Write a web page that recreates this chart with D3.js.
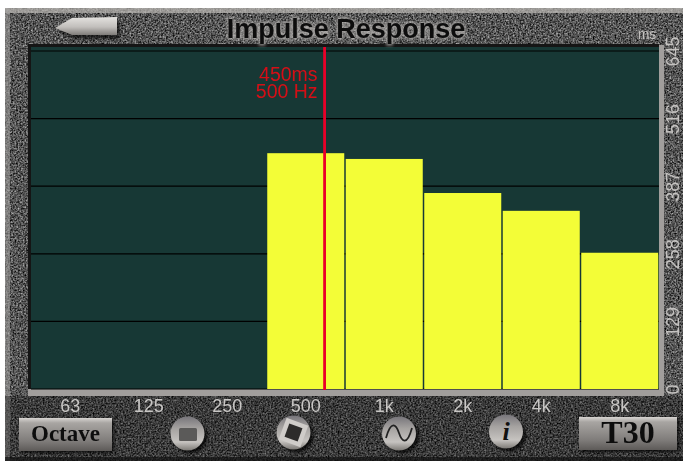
<!DOCTYPE html>
<html lang="en">
<head>
<meta charset="UTF-8">
<title>Impulse Response</title>
<style>
    html, body { margin: 0; padding: 0; background: #fff; }
    svg { display: block; }
    text { font-family: "Liberation Sans", Arial, sans-serif; }
</style>
</head>
<body>
<script src="https://d3js.org/d3.v7.min.js"></script>
<script>
var bands = ["63", "125", "250", "500", "1k", "2k", "4k", "8k"];
var times = [0, 0, 0, 450, 439, 374, 340, 260];
var yTicks = [0, 129, 258, 387, 516, 645];
var cursorBand = "500";
var cursorOffset = 0.74;
var cursorLabels = ["450ms", "500 Hz"];

var width = 683, height = 461;
var plot = { left: 31, right: 659, top: 51, bottom: 389 };

var x = d3.scaleBand().domain(bands).range([plot.left, plot.right]);
var y = d3.scaleLinear().domain([0, 645]).range([plot.bottom, plot.top]);

var svg = d3.select("body").append("svg")
    .attr("width", width)
    .attr("height", height);

var defs = svg.append("defs");

// grainy metal plate
var grain = defs.append("filter").attr("id", "grain")
    .attr("x", 0).attr("y", 0).attr("width", "100%").attr("height", "100%")
    .attr("color-interpolation-filters", "sRGB");
grain.append("feTurbulence")
    .attr("type", "fractalNoise")
    .attr("baseFrequency", 0.6)
    .attr("numOctaves", 2)
    .attr("seed", 4);
grain.append("feColorMatrix")
    .attr("type", "matrix")
    .attr("values", "1 0 0 0 -0.17  1 0 0 0 -0.17  1 0 0 0 -0.17  0 0 0 0 1");
grain.append("feGaussianBlur").attr("stdDeviation", 0.35);

var blur = defs.append("filter").attr("id", "soft")
    .attr("x", "-20%").attr("y", "-20%").attr("width", "140%").attr("height", "140%");
blur.append("feGaussianBlur").attr("stdDeviation", 1.5);

var blurText = defs.append("filter").attr("id", "softText")
    .attr("x", "-10%").attr("y", "-10%").attr("width", "120%").attr("height", "120%");
blurText.append("feGaussianBlur").attr("stdDeviation", 0.4);

function vGradient(id, stops) {
    var g = defs.append("linearGradient").attr("id", id)
        .attr("x1", 0).attr("y1", 0).attr("x2", 0).attr("y2", 1);
    stops.forEach(function(s) {
        g.append("stop").attr("offset", s[0]).attr("stop-color", s[1]);
    });
}
vGradient("btn", [[0, "#d8d5d2"], [0.15, "#a8a5a2"], [0.7, "#7f7c7a"], [1, "#5d5a58"]]);
vGradient("knob", [[0, "#77757a"], [0.35, "#a5a2a0"], [0.75, "#c6c3c0"], [1, "#7d7a76"]]);
vGradient("arrow", [[0, "#e4e2df"], [0.55, "#c2bfbc"], [1, "#7f7c79"]]);

// plate
svg.append("rect")
    .attr("x", 5).attr("y", 8)
    .attr("width", width - 5).attr("height", height - 8)
    .attr("filter", "url(#grain)");
svg.append("rect")
    .attr("x", 5).attr("y", 8)
    .attr("width", width - 5).attr("height", 5)
    .attr("fill", "#bdbab7").attr("opacity", 0.7);
svg.append("rect")
    .attr("x", 5).attr("y", 8)
    .attr("width", 5).attr("height", height - 8)
    .attr("fill", "#a3a09e").attr("opacity", 0.55);
svg.append("rect")
    .attr("x", 5).attr("y", 396)
    .attr("width", width - 5).attr("height", 65)
    .attr("fill", "#000").attr("opacity", 0.3);
svg.append("rect")
    .attr("x", 5).attr("y", 457)
    .attr("width", width - 5).attr("height", 4)
    .attr("fill", "#111").attr("opacity", 0.7);

// bevel round the plot
svg.append("rect")
    .attr("x", plot.left - 3).attr("y", plot.top - 6)
    .attr("width", plot.right - plot.left + 8).attr("height", plot.bottom - plot.top + 13)
    .attr("fill", "#a19e9c")
    .attr("filter", "url(#softText)");
svg.append("rect")
    .attr("x", plot.left - 3).attr("y", plot.top - 7)
    .attr("width", plot.right - plot.left + 3).attr("height", plot.bottom - plot.top + 7)
    .attr("fill", "#151515");

svg.append("rect")
    .attr("x", plot.left).attr("y", plot.top - 4)
    .attr("width", plot.right - plot.left).attr("height", plot.bottom - plot.top + 4)
    .attr("fill", "#173835");

// grid
svg.append("g").selectAll("line")
    .data(yTicks)
    .join("line")
    .attr("x1", plot.left).attr("x2", plot.right)
    .attr("y1", function(d) { return y(d); })
    .attr("y2", function(d) { return y(d); })
    .attr("stroke", "#000")
    .attr("stroke-width", 1.2);

// bars
svg.append("g").selectAll("rect")
    .data(bands.map(function(b, i) { return { band: b, value: times[i] }; }).filter(function(d) { return d.value > 0; }))
    .join("rect")
    .attr("x", function(d) { return x(d.band) + 0.75; })
    .attr("y", function(d) { return y(d.value); })
    .attr("width", x.bandwidth() - 1.5)
    .attr("height", function(d) { return y(0) - y(d.value); })
    .attr("fill", "#f3fd37");

// cursor
var cursorX = x(cursorBand) + x.bandwidth() * cursorOffset;
svg.append("line")
    .attr("x1", cursorX).attr("x2", cursorX)
    .attr("y1", plot.top - 4).attr("y2", plot.bottom + 1)
    .attr("stroke", "#ea0029")
    .attr("stroke-width", 2.8);
svg.append("g").attr("filter", "url(#softText)").selectAll("text")
    .data(cursorLabels)
    .join("text")
    .attr("x", cursorX - 7)
    .attr("y", function(d, i) { return 81 + i * 17; })
    .attr("text-anchor", "end")
    .attr("font-size", 19.5)
    .attr("fill", "#d60f16")
    .text(function(d) { return d; });

// axes, drawn through d3 so the tick text follows the scales
var xAxis = svg.append("g")
    .attr("transform", "translate(0,412)")
    .attr("filter", "url(#softText)")
    .call(d3.axisBottom(x).tickSize(0).tickPadding(0));
xAxis.select(".domain").remove();
xAxis.selectAll("text")
    .attr("y", 0).attr("dy", 0)
    .attr("font-size", 18)
    .attr("font-family", "Liberation Sans")
    .attr("fill", "#c8c6c4");

var yAxis = svg.append("g")
    .attr("filter", "url(#softText)")
    .call(d3.axisRight(y).tickValues(yTicks).tickSize(0).tickFormat(d3.format("d")));
yAxis.select(".domain").remove();
yAxis.selectAll("text")
    .attr("transform", "translate(679,0) rotate(-90)")
    .attr("x", 0).attr("y", 0).attr("dy", 0)
    .attr("text-anchor", "middle")
    .attr("font-size", 18)
    .attr("font-family", "Liberation Sans")
    .attr("fill", "#c4c2c0");

svg.append("text")
    .attr("x", 647).attr("y", 39)
    .attr("text-anchor", "middle")
    .attr("font-size", 14)
    .attr("fill", "#c4c2c0")
    .text("ms");

// title
svg.append("text")
    .attr("x", 346).attr("y", 37.5)
    .attr("text-anchor", "middle")
    .attr("font-size", 27)
    .attr("font-weight", "bold")
    .attr("fill", "none")
    .attr("stroke", "#b8b5b2")
    .attr("stroke-width", 3)
    .attr("opacity", 0.75)
    .attr("filter", "url(#soft)")
    .text("Impulse Response");
svg.append("text")
    .attr("x", 346).attr("y", 37.5)
    .attr("text-anchor", "middle")
    .attr("font-size", 27)
    .attr("font-weight", "bold")
    .attr("fill", "#0b0b0b")
    .attr("filter", "url(#softText)")
    .text("Impulse Response");

// back arrow
svg.append("path")
    .attr("d", "M58 31 L74 23 L120 21 L120 39 L74 39 Z")
    .attr("fill", "#000").attr("opacity", 0.6).attr("filter", "url(#soft)");
svg.append("path")
    .attr("d", "M55 28 L72 18 L117 17 L117 35 L72 35 Z")
    .attr("fill", "url(#arrow)");

// buttons
function button(bx, by, bw, bh, label, size) {
    svg.append("rect")
        .attr("x", bx + 2).attr("y", by + 2).attr("width", bw).attr("height", bh)
        .attr("fill", "#000").attr("opacity", 0.7).attr("filter", "url(#soft)");
    svg.append("rect")
        .attr("x", bx).attr("y", by).attr("width", bw).attr("height", bh)
        .attr("fill", "url(#btn)");
    svg.append("text")
        .attr("x", bx + bw / 2).attr("y", by + bh / 2 + size * 0.3)
        .attr("text-anchor", "middle")
        .attr("font-size", size)
        .attr("font-weight", "bold")
        .style("font-family", "'Liberation Serif', serif")
        .attr("fill", "#111")
        .attr("filter", "url(#softText)")
        .text(label);
}
button(19, 418, 93, 33, "Octave", 23);
button(579, 417, 98, 33, "T30", 32);

function knob(cx, cy) {
    svg.append("circle")
        .attr("cx", cx + 3).attr("cy", cy + 3).attr("r", 17)
        .attr("fill", "#000").attr("opacity", 0.7).attr("filter", "url(#soft)");
    svg.append("circle")
        .attr("cx", cx).attr("cy", cy).attr("r", 17)
        .attr("fill", "url(#knob)");
}
knob(187.5, 433.5);
svg.append("rect")
    .attr("x", 179).attr("y", 428).attr("width", 18).attr("height", 13)
    .attr("rx", 1.5)
    .attr("fill", "#5b5a59");

knob(293.5, 432.5);
svg.append("rect")
    .attr("x", 282).attr("y", 421).attr("width", 23).attr("height", 23)
    .attr("transform", "rotate(20 293.5 432.5)")
    .attr("fill", "#cfccc9");
svg.append("rect")
    .attr("x", 286.5).attr("y", 425.5).attr("width", 14).attr("height", 14)
    .attr("transform", "rotate(20 293.5 432.5)")
    .attr("fill", "#2c2b2a");

knob(399, 433.5);
svg.append("path")
    .attr("d", "M386 438 C391 420 396 424 399 433 C402 442 407 446 412 428")
    .attr("fill", "none")
    .attr("stroke", "#222")
    .attr("stroke-width", 1.8);

knob(506, 431.5);
svg.append("text")
    .attr("x", 506).attr("y", 440)
    .attr("text-anchor", "middle")
    .attr("font-size", 26)
    .attr("font-weight", "bold")
    .attr("font-style", "italic")
    .style("font-family", "'Liberation Serif', serif")
    .attr("fill", "#111")
    .text("i");
</script>
</body>
</html>
